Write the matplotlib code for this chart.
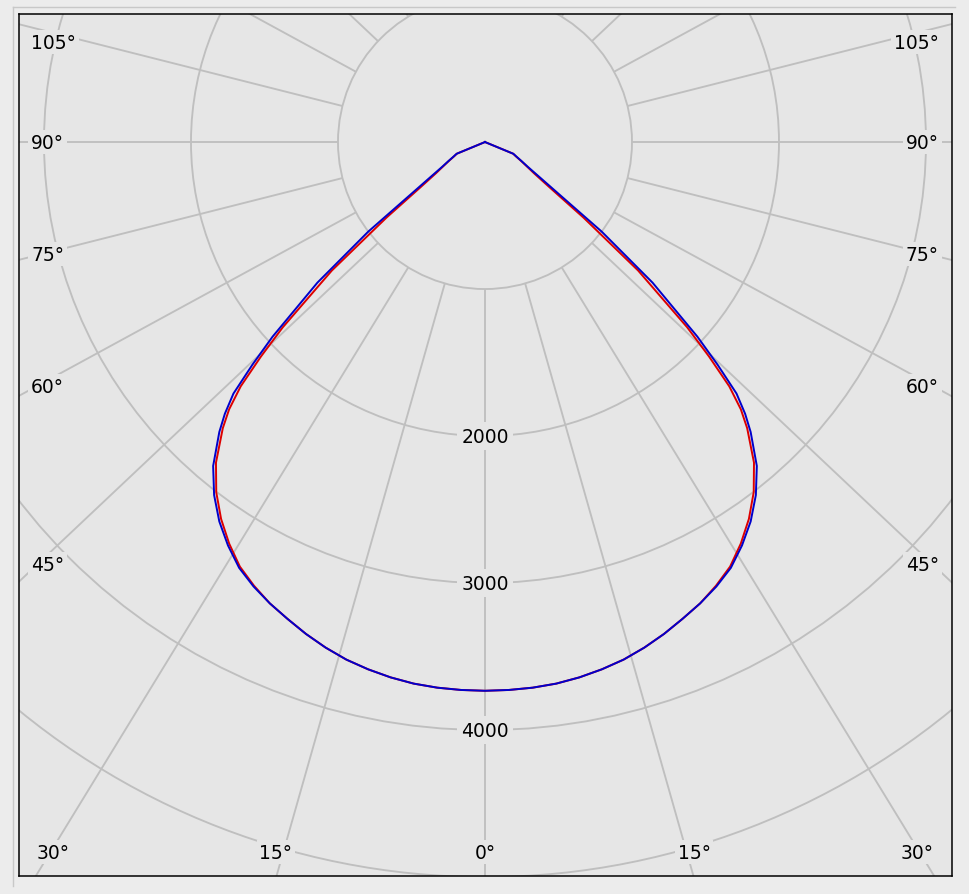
import numpy as np
import matplotlib
matplotlib.use("Agg")
import matplotlib.pyplot as plt
from matplotlib.patches import Circle
from matplotlib.lines import Line2D

# ---- data (gamma angle in degrees, luminous intensity in cd) ----
angles_deg = [0, 2.5, 5, 7.5, 10, 12.5, 15, 17.5, 20, 22.5, 25, 27.5, 30,
              32.5, 35, 37.5, 40, 42.5, 43.75, 45, 46.25, 47.5, 50, 52.5, 55,
              57.5, 60, 62.5, 65, 67.5, 70, 75, 80, 85, 90]
intensity_blue = [3733, 3731, 3726, 3716, 3698, 3674, 3645, 3606, 3561, 3511,
                  3463, 3409, 3345, 3254, 3151, 3027, 2877, 2675, 2559, 2420,
                  2190, 1960, 1488, 1000, 600, 430, 335, 280, 238, 209, 0,
                  0, 0, 0, 0]
intensity_red = [3733, 3731, 3726, 3716, 3698, 3674, 3645, 3606, 3561, 3511,
                 3463, 3403, 3335, 3239, 3130, 3003, 2847, 2640, 2517, 2350,
                 2110, 1866, 1360, 845, 533, 396, 325, 275, 234, 207, 0,
                 0, 0, 0, 0]

ring_values = [1000, 2000, 3000, 4000, 5000]
ring_labels = ["2000", "3000", "4000"]
side_labels = ["105°", "90°", "75°", "60°", "45°"]
side_label_y = [680, 0, -762, -1660, -2871]
bottom_labels = ["30°", "15°", "0°", "15°", "30°"]
bottom_label_x = [-2939, -1422, 0, 1422, 2939]

# ---- style ----
FIG_BG = "#ececec"
AX_BG = "#e6e6e6"
GRID = "#bfbfbf"
RED = "#dd0000"
BLUE = "#0000cc"
W, H = 969, 895

fig = plt.figure(figsize=(W / 100, H / 100), dpi=100, facecolor=FIG_BG)
x0, x1, y0, y1 = 19, 952, 15, 877
ax = fig.add_axes([x0 / W, 1 - y1 / H, (x1 - x0) / W, (y1 - y0) / H])
ax.set_facecolor(AX_BG)
ax.set_xlim(-3170, 3177)
ax.set_ylim(-4993, 871)
ax.set_xticks([])
ax.set_yticks([])
for s in ax.spines.values():
    s.set_color("black")
    s.set_linewidth(1.1)

# outer panel edge (top and left)
fig.add_artist(Line2D([13 / W, 955 / W], [1 - 7.5 / H, 1 - 7.5 / H],
                      color="#c8c8c8", lw=1.0))
fig.add_artist(Line2D([13 / W, 13 / W], [1 - 7.5 / H, 1 - 887 / H],
                      color="#c8c8c8", lw=1.0))

# spokes every 15 degrees (slightly stretched horizontally as in the source)
k = 1.06
L = 20000
for a in range(0, 360, 15):
    t = np.deg2rad(a)
    ax.plot([0, L * k * np.sin(t)], [0, -L * np.cos(t)], color=GRID,
            lw=1.35, zorder=1, solid_capstyle="butt")
# mask the spokes inside the first ring
ax.add_patch(Circle((0, 0), ring_values[0], facecolor=AX_BG,
                    edgecolor="none", zorder=1.5))
# rings
for r in ring_values:
    ax.add_patch(Circle((0, 0), r, facecolor="none", edgecolor=GRID,
                        lw=1.35, zorder=2))

# curves (symmetric about 0 deg)
ang = np.array(angles_deg, dtype=float)
full_ang = np.deg2rad(np.concatenate([-ang[::-1], ang[1:]]))
for vals, col in [(intensity_red, RED), (intensity_blue, BLUE)]:
    v = np.array(vals, dtype=float)
    full_v = np.concatenate([v[::-1], v[1:]])
    ax.plot(full_v * np.sin(full_ang), -full_v * np.cos(full_ang),
            color=col, lw=1.4, zorder=3, solid_joinstyle="round")

# labels
fs = 13.5
bb = dict(facecolor=AX_BG, edgecolor="none", pad=2.0)
for txt, yv in zip(side_labels, side_label_y):
    ax.text(-3088, yv, txt, ha="left", va="center", fontsize=fs,
            color="black", bbox=bb, zorder=4)
    ax.text(3088, yv, txt, ha="right", va="center", fontsize=fs,
            color="black", bbox=bb, zorder=4)
for txt, xv in zip(bottom_labels, bottom_label_x):
    ax.text(xv, -4830, txt, ha="center", va="center", fontsize=fs,
            color="black", bbox=bb, zorder=4)
for txt in ring_labels:
    ax.text(0, -float(txt), txt, ha="center", va="center", fontsize=fs,
            color="black", bbox=dict(facecolor=AX_BG, edgecolor="none",
                                     pad=3.0), zorder=4)

fig.savefig("out.png", dpi=100, facecolor=FIG_BG)
